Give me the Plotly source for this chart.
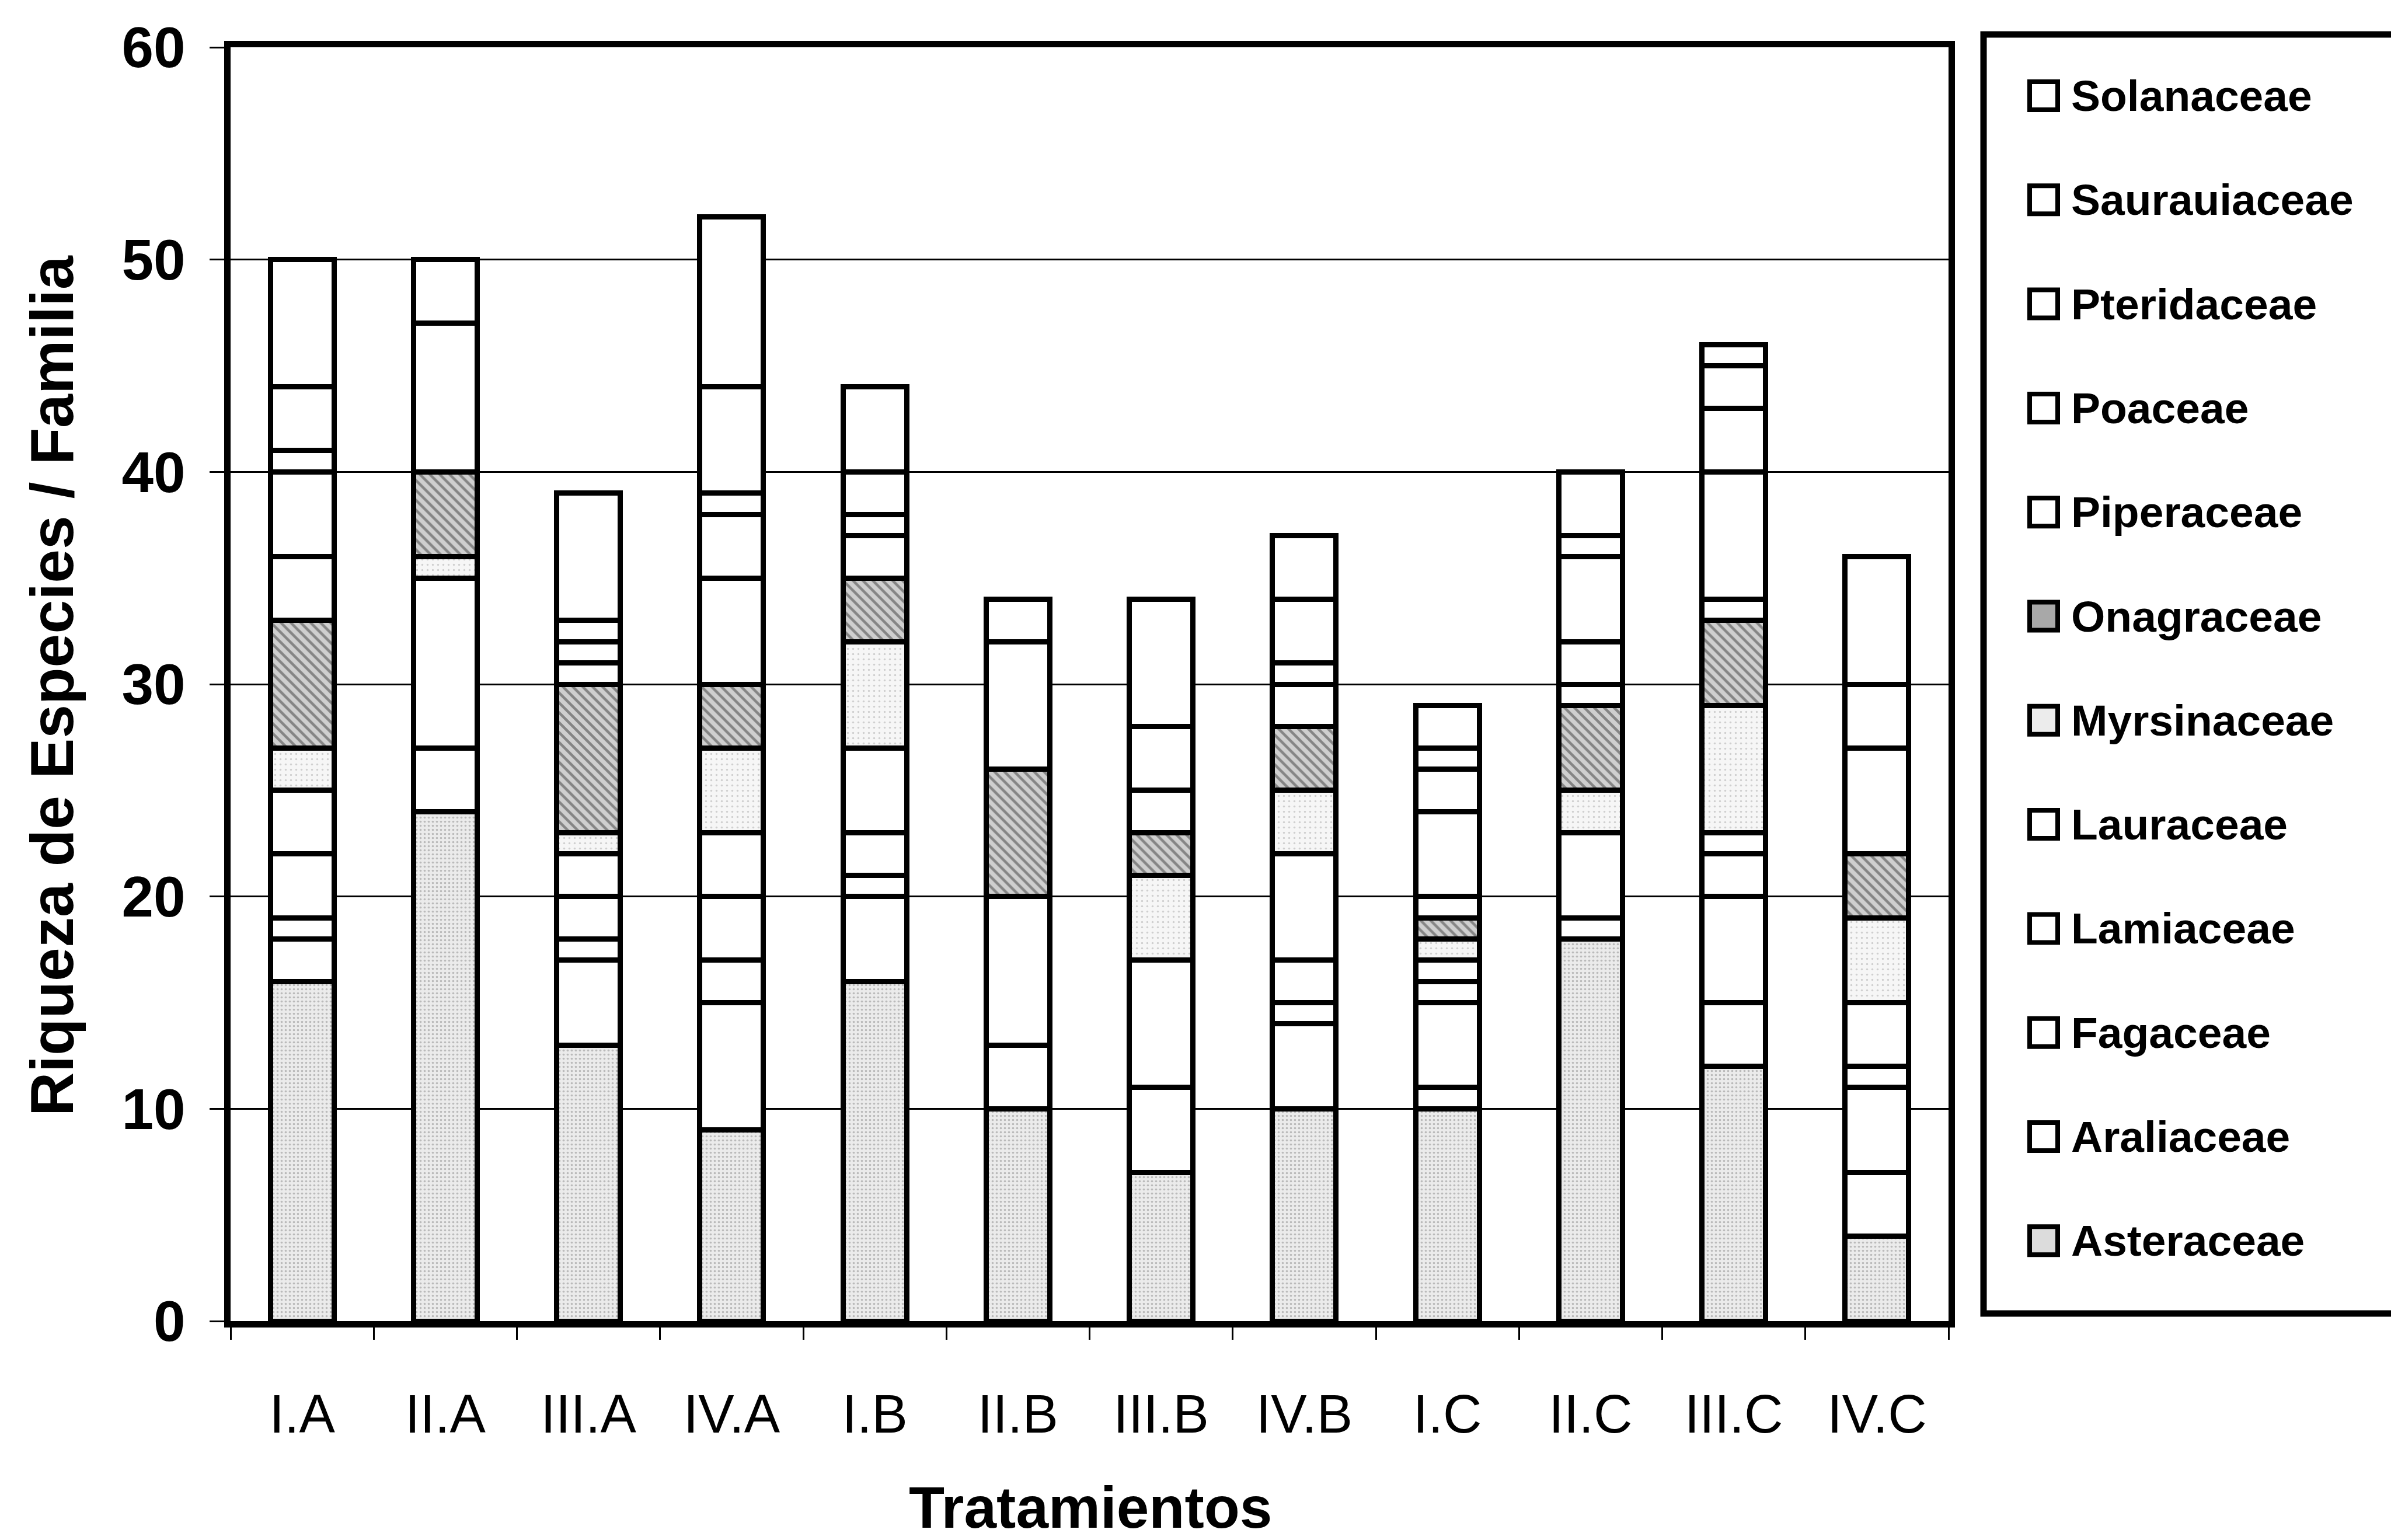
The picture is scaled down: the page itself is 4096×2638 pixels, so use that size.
import plotly.graph_objects as go

# Treatments on the x axis
tratamientos = ["I.A", "II.A", "III.A", "IV.A", "I.B", "II.B", "III.B", "IV.B",
                "I.C", "II.C", "III.C", "IV.C"]

# Species richness per family (stacked bottom -> top)
asteraceae   = [16, 24, 13, 9, 16, 10, 7, 10, 10, 18, 12, 4]
araliaceae   = [2, 3, 4, 6, 4, 3, 4, 4, 1, 1, 3, 3]
fagaceae     = [1, 0, 1, 2, 1, 0, 0, 1, 4, 0, 5, 4]
lamiaceae    = [3, 0, 2, 3, 2, 0, 6, 2, 1, 4, 2, 1]
lauraceae    = [3, 8, 2, 3, 4, 7, 0, 5, 1, 0, 1, 3]
myrsinaceae  = [2, 1, 1, 4, 5, 0, 4, 3, 1, 2, 6, 4]
onagraceae   = [6, 4, 7, 3, 3, 6, 2, 3, 1, 4, 4, 3]
piperaceae   = [3, 0, 1, 5, 2, 0, 2, 2, 1, 1, 1, 5]
poaceae      = [4, 7, 1, 3, 1, 6, 3, 1, 4, 2, 6, 3]
pteridaceae  = [1, 0, 1, 1, 0, 0, 0, 0, 2, 4, 3, 0]
saurauiaceae = [3, 0, 0, 5, 2, 0, 0, 3, 1, 1, 2, 0]
solanaceae   = [6, 3, 6, 8, 4, 2, 6, 3, 2, 3, 1, 6]

familias = [
    ("Asteraceae", asteraceae),
    ("Araliaceae", araliaceae),
    ("Fagaceae", fagaceae),
    ("Lamiaceae", lamiaceae),
    ("Lauraceae", lauraceae),
    ("Myrsinaceae", myrsinaceae),
    ("Onagraceae", onagraceae),
    ("Piperaceae", piperaceae),
    ("Poaceae", poaceae),
    ("Pteridaceae", pteridaceae),
    ("Saurauiaceae", saurauiaceae),
    ("Solanaceae", solanaceae),
]

# Fill styles (grey-scale print look)
estilos = {
    "Asteraceae": dict(bg="#ebebeb", fg="#8a8a8a", shape=".", size=7, solidity=0.22, legend="#dcdcdc"),
    "Myrsinaceae": dict(bg="#f6f6f6", fg="#a8a8a8", shape=".", size=9, solidity=0.12, legend="#ececec"),
    "Onagraceae": dict(bg="#cfcfcf", fg="#3c3c3c", shape="\\", size=12, solidity=0.38, legend="#a8a8a8"),
}

FONT = "Arial, Liberation Sans, sans-serif"

fig = go.Figure()
for nombre, valores in familias:
    ys = [v if v else None for v in valores]
    est = estilos.get(nombre)
    marker = dict(color="white", line=dict(color="black", width=9))
    if est:
        marker["color"] = est["bg"]
        marker["pattern"] = dict(shape=est["shape"], fgcolor=est["fg"], bgcolor=est["bg"],
                                 size=est["size"], solidity=est["solidity"])
    fig.add_trace(go.Bar(name=nombre, x=tratamientos, y=ys, marker=marker, showlegend=False))

# Plot area in pixels
W, H = 4096, 2638
L, R, T, B = 395, 3338, 81, 2263
PW, PH = R - L, B - T

def px(x):
    return (x - L) / PW

def py(y):
    return (B - y) / PH

shapes = []
annotations = []

# Legend box
shapes.append(dict(type="rect", xref="paper", yref="paper",
                   x0=px(3398), x1=px(4130), y0=py(2250), y1=py(59),
                   line=dict(color="black", width=11), fillcolor="white", layer="above"))

leyenda = [nombre for nombre, _ in familias][::-1]
for i, nombre in enumerate(leyenda):
    yc = 164 + i * 178.3
    fill = estilos[nombre]["legend"] if nombre in estilos else "white"
    shapes.append(dict(type="rect", xref="paper", yref="paper",
                       x0=px(3477), x1=px(3525), y0=py(yc + 24), y1=py(yc - 24),
                       line=dict(color="black", width=8), fillcolor=fill, layer="above"))
    annotations.append(dict(text="<b>" + nombre + "</b>", xref="paper", yref="paper",
                            x=px(3546), y=py(yc), xanchor="left", yanchor="middle",
                            showarrow=False,
                            font=dict(family=FONT, size=75, color="black")))

# Axis titles
annotations.append(dict(text="<b>Riqueza de Especies / Familia</b>", xref="paper", yref="paper",
                        x=px(89), y=py(1175), xanchor="center", yanchor="middle",
                        textangle=-90, showarrow=False,
                        font=dict(family=FONT, size=104, color="black")))
annotations.append(dict(text="<b>Tratamientos</b>", xref="paper", yref="paper",
                        x=px(1868), y=py(2582), xanchor="center", yanchor="middle",
                        showarrow=False, font=dict(family=FONT, size=100, color="black")))

fig.update_layout(
    width=W, height=H,
    margin=dict(l=L, r=W - R, t=T, b=H - B, pad=0),
    barmode="stack",
    bargap=0.555,
    plot_bgcolor="white",
    paper_bgcolor="white",
    showlegend=False,
    shapes=shapes,
    annotations=annotations,
)

fig.update_yaxes(
    range=[0, 60], dtick=10, tick0=0,
    showgrid=True, gridcolor="black", gridwidth=3,
    showline=True, linecolor="black", linewidth=11, mirror=True,
    ticks="outside", ticklen=25, tickwidth=3, tickcolor="black",
    ticklabelstandoff=22,
    tickfont=dict(family=FONT, size=98, color="black", weight="bold"),
    zeroline=False,
)
fig.update_xaxes(
    showline=True, linecolor="black", linewidth=11, mirror=True,
    ticks="outside", ticklen=21, tickwidth=3, tickcolor="black",
    tickson="boundaries",
    ticklabelstandoff=70,
    tickfont=dict(family=FONT, size=92, color="black"),
    showgrid=False,
)

fig.write_html("out.html")
